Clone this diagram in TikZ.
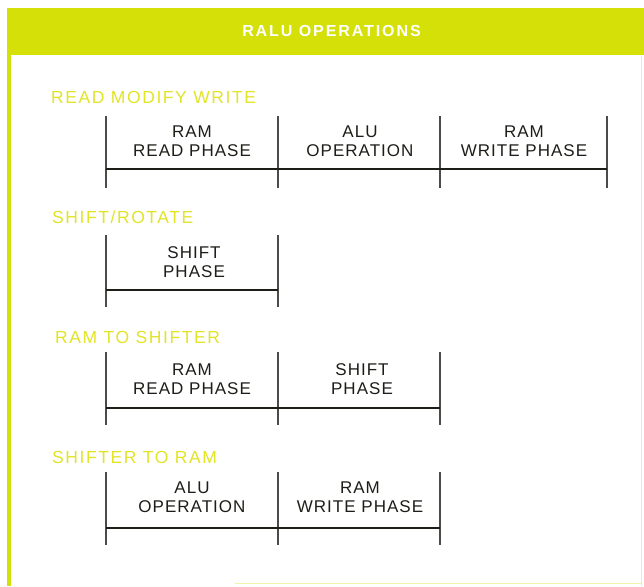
\documentclass[tikz,border=0pt]{standalone}
\usepackage{fontspec}
\setmainfont{Liberation Sans}
\newfontfamily\lblfont[LetterSpace=9]{Liberation Sans}
\newfontfamily\phfont[LetterSpace=6]{Liberation Sans}
\newfontfamily\hdrfont[LetterSpace=12]{Liberation Sans}
\definecolor{frameyg}{RGB}{212,224,8}
\definecolor{lblyel}{RGB}{226,228,40}
\definecolor{ink}{RGB}{30,30,25}
\begin{document}
\begin{tikzpicture}[x=1pt,y=-1pt,
  phase/.style={font=\phfont\fontsize{17}{19}\selectfont, text=ink, align=center, inner sep=0pt},
  oplabel/.style={font=\lblfont\fontsize{17.5}{19}\selectfont, text=lblyel, anchor=west, inner sep=0pt},
  tick/.style={draw=ink!80, line width=1.3pt},
  bar/.style={draw=ink, line width=2.8pt}]
\useasboundingbox (0,0) rectangle (644,586);
\fill[white] (0,0) rectangle (644,586);
% frame
\fill[frameyg] (7,8) rectangle (644,55);
\fill[frameyg] (7,55) rectangle (11,586);
\draw[frameyg!40, line width=0.8pt] (641,55) -- (641,586);
\draw[frameyg!35, line width=0.8pt] (235,583) -- (641,583);
\node[font=\hdrfont\bfseries\fontsize{16}{18}\selectfont, text=white] (title) at (331.5,31) {RALU OPERATIONS};

% row 1
\node[oplabel] (l1) at (51,97) {READ MODIFY WRITE};
\foreach \x/\n in {106/a,278/b,440/c,607/d} {
  \coordinate (r1\n t) at (\x,116);
  \coordinate (r1\n b) at (\x,188);
  \coordinate (r1\n m) at (\x,169);
  \draw[tick] (r1\n t) -- (r1\n b);
}
\draw[bar] (r1am) -- (r1dm);
\node[phase] (p11) at (192,141.5) {RAM\\READ PHASE};
\node[phase] (p12) at (360,141.5) {ALU\\OPERATION};
\node[phase] (p13) at (524,141.5) {RAM\\WRITE PHASE};

% row 2
\node[oplabel] (l2) at (52,217) {SHIFT/ROTATE};
\foreach \x/\n in {106/a,278/b} {
  \coordinate (r2\n t) at (\x,235);
  \coordinate (r2\n b) at (\x,307);
  \coordinate (r2\n m) at (\x,290);
  \draw[tick] (r2\n t) -- (r2\n b);
}
\draw[bar] (r2am) -- (r2bm);
\node[phase] (p21) at (194,262.5) {SHIFT\\PHASE};

% row 3
\node[oplabel] (l3) at (55,337) {RAM TO SHIFTER};
\foreach \x/\n in {106/a,278/b,440/c} {
  \coordinate (r3\n t) at (\x,352);
  \coordinate (r3\n b) at (\x,425);
  \coordinate (r3\n m) at (\x,408);
  \draw[tick] (r3\n t) -- (r3\n b);
}
\draw[bar] (r3am) -- (r3cm);
\node[phase] (p31) at (192,379.5) {RAM\\READ PHASE};
\node[phase] (p32) at (362,379.5) {SHIFT\\PHASE};

% row 4
\node[oplabel] (l4) at (52,457) {SHIFTER TO RAM};
\foreach \x/\n in {106/a,278/b,440/c} {
  \coordinate (r4\n t) at (\x,472);
  \coordinate (r4\n b) at (\x,545);
  \coordinate (r4\n m) at (\x,528);
  \draw[tick] (r4\n t) -- (r4\n b);
}
\draw[bar] (r4am) -- (r4cm);
\node[phase] (p41) at (192,497.5) {ALU\\OPERATION};
\node[phase] (p42) at (360,497.5) {RAM\\WRITE PHASE};
\end{tikzpicture}
\end{document}
